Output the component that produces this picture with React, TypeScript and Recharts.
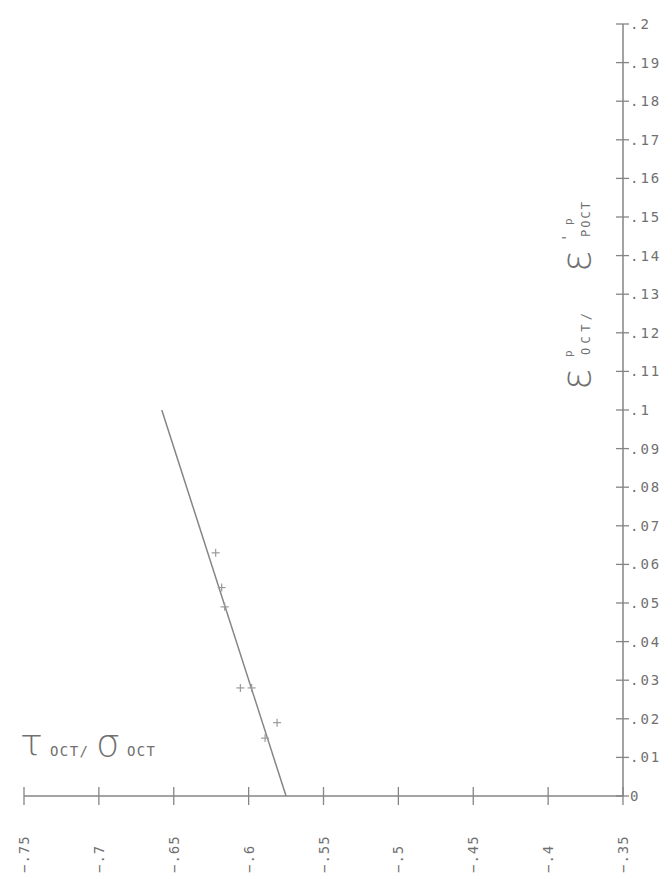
import { ScatterChart, Scatter, XAxis, YAxis } from "recharts";

// axis ticks
const X_TICKS = [-0.75, -0.7, -0.65, -0.6, -0.55, -0.5, -0.45, -0.4, -0.35];
const Y_TICKS = [
  0, 0.01, 0.02, 0.03, 0.04, 0.05, 0.06, 0.07, 0.08, 0.09, 0.1,
  0.11, 0.12, 0.13, 0.14, 0.15, 0.16, 0.17, 0.18, 0.19, 0.2,
];

// measured points (tau/sigma, strain ratio)
const POINT_X = [-0.622, -0.618, -0.616, -0.6055, -0.598, -0.581, -0.589];
const POINT_Y = [0.063, 0.054, 0.049, 0.028, 0.028, 0.019, 0.015];

// fitted line end points
const FIT_X = [-0.658, -0.575];
const FIT_Y = [0.1, 0];

const INK = "#707070";
const LINE = "#858585";
const MONO = "'DejaVu Sans Mono', monospace";
const GREEK = "'DejaVu Sans ExtraLight', 'DejaVu Sans', sans-serif";

const points = POINT_X.map((x, i) => ({ x, y: POINT_Y[i] }));
const fit = FIT_X.map((x, i) => ({ x, y: FIT_Y[i] }));

// -0.75 -> "−.75", 0.1 -> ".1"
const fmt = (v: number) => {
  const s = String(parseFloat(v.toFixed(2)));
  return s === "0" ? "0" : s.replace("0.", ".").replace("-", "\u2212");
};

const XTick = ({ x, y, payload }: any) => (
  <g>
    <line x1={x} y1={y - 9} x2={x} y2={y + 9} stroke={LINE} strokeWidth={1.3} />
    <text
      transform={`translate(${x + 5},873) rotate(-90)`}
      textAnchor="start"
      fontFamily={MONO}
      fontSize={14}
      letterSpacing={1}
      fill={INK}
    >
      {fmt(payload.value)}
    </text>
  </g>
);

const YTick = ({ x, y, payload }: any) => (
  <g>
    <line x1={x - 7} y1={y} x2={x + 6} y2={y} stroke={LINE} strokeWidth={1.3} />
    <text
      x={x + 7}
      y={y + 5}
      textAnchor="start"
      fontFamily={MONO}
      fontSize={14}
      letterSpacing={2}
      fill={INK}
    >
      {fmt(payload.value)}
    </text>
  </g>
);

const Plus = ({ cx, cy }: any) => (
  <g stroke="#9a9a9a" strokeWidth={1.2}>
    <line x1={cx - 4} y1={cy} x2={cx + 4} y2={cy} />
    <line x1={cx} y1={cy - 4} x2={cx} y2={cy + 4} />
  </g>
);

const NoDot = () => <g />;

export default function App() {
  return (
    <div style={{ position: "absolute", left: 0, top: 0, width: 672, height: 879, background: "#fff" }}>
      <ScatterChart
        width={672}
        height={879}
        margin={{ top: 24, right: 0, bottom: 0, left: 24 }}
      >
        <XAxis
          type="number"
          dataKey="x"
          domain={[-0.75, -0.35]}
          ticks={X_TICKS}
          interval={0}
          allowDataOverflow
          height={83}
          tickSize={0}
          tickMargin={0}
          tickLine={false}
          axisLine={{ stroke: LINE, strokeWidth: 1.5 }}
          tick={<XTick />}
        />
        <YAxis
          type="number"
          dataKey="y"
          orientation="right"
          domain={[0, 0.2]}
          ticks={Y_TICKS}
          interval={0}
          allowDataOverflow
          width={49}
          tickSize={0}
          tickMargin={0}
          tickLine={false}
          axisLine={{ stroke: LINE, strokeWidth: 1.5 }}
          tick={<YTick />}
        />
        <Scatter
          data={fit}
          line={{ stroke: LINE, strokeWidth: 1.5 }}
          shape={<NoDot />}
          isAnimationActive={false}
        />
        <Scatter data={points} shape={<Plus />} isAnimationActive={false} />
      </ScatterChart>

      {/* axis titles */}
      <svg
        width={672}
        height={879}
        style={{ position: "absolute", left: 0, top: 0, pointerEvents: "none" }}
      >
        <g fill={INK}>
          <text x={20} y={756} fontFamily={GREEK} fontWeight={200} fontSize={38}>τ</text>
          <text x={50} y={756} fontFamily={MONO} fontSize={14} textLength={38} lengthAdjust="spacing">OCT/</text>
          <text x={96} y={756} fontFamily={GREEK} fontWeight={200} fontSize={38}>σ</text>
          <text x={127} y={756} fontFamily={MONO} fontSize={14} textLength={28} lengthAdjust="spacing">OCT</text>

          <g transform="translate(590,390) rotate(-90)">
            <text x={0} y={0} fontFamily={GREEK} fontWeight={200} fontSize={40}>ε</text>
            <text x={33} y={-18} fontFamily={MONO} fontSize={11}>p</text>
            <text x={35} y={0} fontFamily={MONO} fontSize={12} textLength={42} lengthAdjust="spacing">OCT/</text>
            <text x={118} y={0} fontFamily={GREEK} fontWeight={200} fontSize={40}>ε</text>
            <text x={148} y={-18} fontFamily={MONO} fontSize={14}>'</text>
            <text x={165} y={-18} fontFamily={MONO} fontSize={11}>p</text>
            <text x={153} y={0} fontFamily={MONO} fontSize={12} textLength={35} lengthAdjust="spacing">POCT</text>
          </g>
        </g>
      </svg>
    </div>
  );
}
